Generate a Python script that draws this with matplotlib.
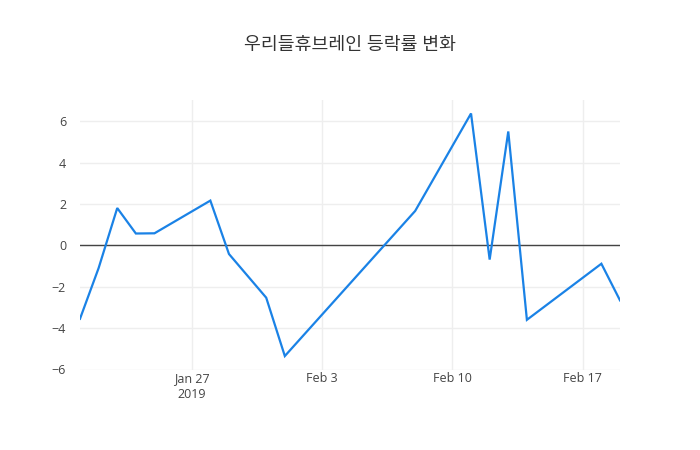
import matplotlib
matplotlib.use("Agg")
import matplotlib.pyplot as plt
import matplotlib.dates as mdates
import numpy as np
import pandas as pd

plt.rcParams['font.family'] = ['Open Sans', 'Noto Sans CJK KR', 'DejaVu Sans']

title = "우리들휴브레인 등락률 변화"
dates = ["2019-01-21", "2019-01-22", "2019-01-23", "2019-01-24", "2019-01-25",
         "2019-01-28", "2019-01-29", "2019-01-31", "2019-02-01", "2019-02-08",
         "2019-02-11", "2019-02-12", "2019-02-13", "2019-02-14", "2019-02-18",
         "2019-02-19"]
values = [-3.55, -1.10, 1.80, 0.57, 0.58, 2.16, -0.42, -2.53, -5.35, 1.66,
          6.37, -0.69, 5.50, -3.60, -0.89, -2.66]
xticks = ["2019-01-27", "2019-02-03", "2019-02-10", "2019-02-17"]
xtick_labels = ["Jan 27\n2019", "Feb 3", "Feb 10", "Feb 17"]
yticks = [-6, -4, -2, 0, 2, 4, 6]

x = pd.to_datetime(dates)

fig = plt.figure(figsize=(7, 4.5), dpi=100)
ax = fig.add_axes([80/700, (450-369.5)/450, 540/700, 269.5/450])

ax.plot(x, values, color='#1a82e6', linewidth=1.6, solid_joinstyle='miter', zorder=3)
ax.axhline(0, color='#444444', linewidth=1, zorder=2)

ax.set_xlim(x[0], x[-1])
ax.set_ylim(-6.0, 7.02)
ax.set_yticks(yticks)
ax.set_yticklabels([("\u2212" + str(abs(v))) if v < 0 else str(v) for v in yticks])
ax.set_xticks(pd.to_datetime(xticks))
ax.set_xticklabels(xtick_labels)

ax.grid(True, color='#eeeeee', linewidth=1, zorder=0)
for s in ax.spines.values():
    s.set_visible(False)
ax.tick_params(axis='both', length=0, labelsize=9, colors='#444444')
ax.tick_params(axis='x', pad=2)
ax.tick_params(axis='y', pad=10)
for lab in ax.get_xticklabels():
    lab.set_linespacing(1.3)

fig.text(350/700, 1 - 45/450, title, ha='center', va='center', fontsize=13.2, color='#333333')

fig.savefig("out.png", dpi=100)
